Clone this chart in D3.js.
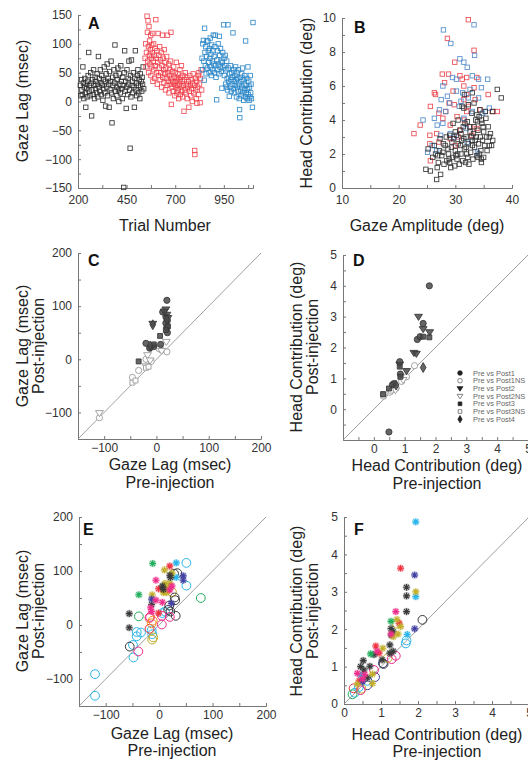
<!DOCTYPE html>
<html><head><meta charset="utf-8">
<script src="https://cdn.jsdelivr.net/npm/d3@7"></script>
<style>body{margin:0;background:#fff}svg{display:block;font-family:Arial,"Liberation Sans",Helvetica,sans-serif}</style>
</head><body><svg id="c" width="528" height="762"></svg>
<script>
// ---------- Panel A: trial number vs gaze lag ----------
const aBlack=[[212,28],[215,10],[218,38],[220,20],[222,12],[225,60],[228,32],[230,5],[232,25],[235,40],[238,15],[240,-10],[242,30],[245,22],[247,8],[250,35],[252,45],[255,85],[257,18],[260,28],[262,10],[265,50],[268,32],[270,-25],[272,20],[275,38],[278,12],[280,55],[282,28],[285,5],[288,42],[290,22],[292,35],[295,15],[298,48],[300,30],[302,8],[305,78],[308,25],[310,40],[312,18],[315,55],[318,32],[320,12],[322,45],[325,28],[328,2],[330,38],[332,22],[335,60],[338,15],[340,35],[342,-8],[345,48],[348,25],[350,65],[352,10],[355,40],[358,30],[360,-10],[362,52],[365,20],[368,35],[370,70],[372,15],[375,-37],[378,42],[380,28],[382,5],[385,55],[388,32],[390,98],[392,18],[395,45],[398,25],[400,10],[402,38],[405,58],[408,20],[410,0],[412,48],[415,30],[418,15],[420,62],[422,35],[425,22],[428,5],[430,42],[432,28],[435,-149],[438,50],[440,88],[442,18],[445,35],[448,-12],[450,25],[452,55],[455,12],[458,40],[460,30],[462,70],[465,20],[468,-81],[470,45],[472,8],[475,72],[478,28],[480,35],[482,15],[485,50],[488,25],[490,-10],[492,40],[495,88],[498,20],[500,32],[502,10],[505,45],[508,55],[510,28],[512,15],[515,38],[518,5],[520,48],[522,25],[525,35],[528,18],[530,42],[532,30],[535,60],[538,22]];
const aRed=[[545,75],[548,100],[550,60],[552,85],[555,148],[557,120],[558,70],[560,140],[562,95],[563,50],[565,130],[567,80],[568,105],[570,65],[572,90],[574,115],[575,45],[577,75],[579,98],[580,60],[582,85],[584,118],[585,35],[587,70],[589,100],[590,55],[592,80],[594,40],[596,92],[598,62],[600,142],[602,75],[604,50],[606,88],[608,30],[610,68],[612,118],[614,45],[616,80],[618,58],[620,95],[622,38],[624,72],[626,50],[628,85],[630,25],[632,62],[634,115],[636,42],[638,75],[640,55],[642,32],[644,90],[646,48],[648,68],[650,20],[652,58],[654,40],[656,78],[658,28],[660,115],[662,50],[664,35],[666,65],[668,15],[670,45],[672,55],[674,30],[676,70],[678,120],[680,-5],[682,40],[684,25],[686,52],[688,35],[690,18],[692,60],[694,30],[696,42],[698,10],[700,50],[702,25],[704,35],[706,68],[708,15],[710,40],[712,28],[714,48],[716,20],[718,5],[720,38],[722,30],[724,55],[726,12],[728,42],[730,25],[732,62],[734,18],[736,35],[738,8],[740,45],[742,28],[745,-17],[748,38],[750,20],[752,50],[755,15],[758,30],[760,42],[762,5],[765,25],[768,35],[770,-10],[772,18],[775,45],[778,28],[780,10],[782,38],[785,22],[788,0],[790,32],[792,48],[795,15],[798,28],[800,-85],[801,-92],[803,40],[805,20],[808,5],[810,35],[812,-3],[815,25],[818,45],[820,12],[822,50],[825,30],[828,-2],[830,40],[833,55],[836,20]];
const aBlue=[[838,75],[840,55],[842,100],[845,106],[847,70],[849,37],[851,127],[853,85],[855,62],[857,95],[859,48],[861,78],[863,105],[865,58],[868,105],[870,88],[872,68],[874,50],[876,92],[878,75],[880,110],[882,60],[884,82],[886,45],[888,98],[890,70],[892,55],[894,88],[896,115],[898,65],[900,78],[902,50],[904,95],[906,115],[908,62],[910,42],[913,3],[915,72],[917,88],[919,55],[921,100],[923,65],[925,48],[927,113],[929,80],[931,60],[933,92],[935,70],[937,52],[940,23],[942,68],[944,85],[946,58],[949,133],[951,75],[953,45],[955,62],[957,80],[959,30],[961,55],[963,25],[965,70],[967,40],[969,20],[971,133],[973,58],[975,35],[978,9],[980,48],[982,25],[984,62],[986,38],[988,18],[990,50],[992,30],[994,42],[997,119],[999,22],[1001,55],[1003,35],[1005,15],[1007,45],[1009,28],[1011,60],[1013,38],[1015,8],[1017,50],[1019,25],[1021,40],[1023,18],[1025,55],[1027,30],[1029,5],[1031,-14],[1032,-28],[1034,42],[1036,20],[1038,35],[1040,10],[1042,48],[1044,25],[1046,58],[1048,15],[1050,38],[1052,2],[1054,30],[1056,20],[1058,45],[1060,8],[1062,105],[1064,28],[1066,15],[1068,40],[1070,5],[1072,22],[1074,60],[1076,12],[1078,35],[1080,2],[1082,25],[1084,8],[1086,45],[1088,15],[1090,30],[1092,5],[1097,-10],[1100,137]];

// ---------- Panel B: gaze amplitude vs head contribution ----------
const bRed=[[32.3,9.9],[33.3,8.1],[28.6,8.8],[29.9,7.4],[27.7,6.7],[28.8,6.7],[30.8,6.6],[32.0,6.5],[33.8,6.5],[26.5,5.5],[25.6,4.8],[22.7,3.2],[23.8,3.7],[25.5,3.1],[25.5,2.6],[25.6,1.6],[26.7,3.2],[29.6,5.7],[35.8,5.5],[37.4,4.5],[36.5,4.5],[33.3,5.9],[31.5,5.2],[29.8,4.9],[28.3,4.5],[32.0,4.5],[30.3,4.2],[29.1,3.7],[30.9,3.4],[32.7,3.6],[33.8,3.5],[27.8,4.1],[27.1,4.4],[31.5,6.0],[32.3,4.8],[29.1,2.9],[30.0,2.5],[27.1,2.7],[33.5,5.2],[32.0,5.5],[28.1,6.2],[26.3,5.6],[31.2,6.4],[30.5,3.0],[32.9,3.1],[28.9,5.0],[34.4,4.6],[31.6,4.0]];
const bBlue=[[27.9,9.3],[29.2,8.5],[33.3,9.6],[30.8,7.6],[31.5,7.4],[32.1,7.1],[33.4,7.8],[33.0,6.6],[34.1,6.4],[35.7,6.4],[27.8,6.0],[30.2,6.4],[34.6,5.9],[30.2,5.7],[31.3,5.6],[28.6,5.4],[29.0,5.0],[32.3,5.3],[34.1,5.3],[27.5,5.2],[28.3,4.5],[26.3,4.1],[24.3,4.0],[26.8,3.7],[27.8,3.8],[27.4,3.1],[29.1,3.2],[31.5,4.1],[33.0,4.5],[35.3,4.5],[36.0,4.7],[33.9,2.1],[25.9,2.5],[25.1,2.1],[26.7,2.2],[29.8,3.0],[32.1,2.7],[34.8,4.4],[30.7,4.8],[31.0,5.1],[29.5,6.5],[32.6,5.8],[27.2,4.6],[31.9,3.5]];
const bBlack=[[26.7,0.5],[24.8,1.1],[25.6,1.0],[26.8,1.2],[27.4,0.8],[29.2,1.2],[37.4,5.8],[38.1,5.3],[36.6,4.5],[36.6,2.8],[36.0,2.5],[34.6,1.7],[34.6,1.5],[34.0,1.8],[33.0,5.6],[33.3,5.0],[31.5,4.7],[25.2,2.3],[26.0,1.8],[26.5,2.0],[27.0,1.5],[27.2,2.2],[27.6,1.9],[28.0,1.4],[28.2,2.5],[28.5,1.6],[28.8,2.0],[29.0,1.5],[29.3,2.4],[29.5,1.8],[29.7,2.9],[29.9,1.3],[30.0,2.2],[30.2,3.1],[30.3,1.7],[30.5,2.6],[30.7,1.4],[30.8,3.4],[31.0,2.0],[31.1,2.8],[31.3,1.6],[31.4,3.6],[31.6,2.3],[31.8,1.5],[31.9,3.0],[32.0,2.0],[32.1,3.9],[32.3,2.6],[32.4,1.4],[32.6,3.3],[32.7,2.1],[32.9,4.4],[33.0,2.8],[33.1,1.7],[33.3,3.6],[33.4,2.4],[33.6,4.0],[33.7,3.0],[33.8,1.9],[34.0,3.4],[34.1,2.6],[34.2,4.2],[34.4,3.0],[34.5,2.2],[34.7,3.8],[34.8,2.8],[35.0,3.3],[35.2,2.5],[35.4,4.1],[35.5,3.0],[35.8,3.6],[36.2,3.2],[36.4,2.5],[35.0,1.8],[34.3,4.6],[33.9,3.9],[33.5,2.8],[32.8,3.0],[31.7,3.8],[31.2,4.8],[30.5,4.0],[30.0,3.3],[29.6,3.8],[29.0,3.1],[28.4,3.0],[27.9,2.6],[27.3,2.9],[26.3,2.5],[26.9,1.9],[30.1,1.9],[30.9,2.5],[31.5,2.9],[32.2,1.8],[32.5,3.6],[33.2,3.2],[34.9,3.6],[35.3,4.5],[34.6,4.0],[33.8,4.3],[31.0,3.2],[29.4,2.7],[28.7,2.3],[27.8,2.1],[28.9,1.7],[30.4,2.0],[31.9,2.4],[33.0,2.5],[34.2,2.0],[36.0,3.0],[35.6,2.2],[31.6,5.5],[32.3,4.9]];

// ---------- Panel C: gaze lag pre vs post ----------
const cPost1=[[20,111],[12,89],[18,80],[21,73],[20,60],[21,50],[8,28],[-20,30],[-13,21],[18,68],[-5,24]];
const cPost1NS=[[-46,-34],[-34,-21],[-20,0],[9,18],[20,14],[-109,-110],[-10,-4],[5,20]];
const cPost2=[[18,94],[-7,67],[20,84],[22,78],[-10,22],[15,90]];
const cPost2NS=[[19,33],[-17,8],[-20,-13],[-109,-101],[10,16],[-12,-2]];
const cPost3=[[7,44],[-34,-4],[-5,28],[22,62],[18,55]];
const cPost3NS=[[-46,-44],[-20,-16],[-15,-14],[-40,-40]];
const cPost4=[[-7,65],[20,75],[-12,25]];

// ---------- Panel D: head contribution pre vs post ----------
const dPost1=[[1.8,4.0],[1.6,2.78],[1.41,2.26],[0.84,1.54],[0.86,1.14],[0.65,0.83],[0.6,0.79],[0.49,-0.74],[1.5,2.35]];
const dPost1NS=[[1.32,1.41],[1.06,1.05],[0.9,0.9],[0.52,0.55],[0.32,0.42],[0.72,0.68]];
const dPost2=[[1.45,3.0],[1.6,2.6],[1.81,2.5],[1.3,1.83],[1.38,1.8],[1.06,1.24],[0.84,1.45]];
const dPost2NS=[[0.7,0.62],[0.95,0.95]];
const dPost3=[[1.8,2.33],[1.6,2.35],[0.84,1.38],[0.86,1.05],[0.49,0.67],[0.3,0.49]];
const dPost3NS=[[0.55,0.6],[0.3,0.45]];
const dPost4=[[1.6,1.35],[0.72,0.78]];
const legendLabels=["Pre vs Post1","Pre vs Post1NS","Pre vs Post2","Pre vs Post2NS","Pre vs Post3","Pre vs Post3NS","Pre vs Post4"];

// ---------- Panel E: gaze lag, per-animal colours ----------
const eCyanStar=[[32,115],[32,88]];
const eCyanCircle=[[51,115],[51,73],[11,25],[6,22],[-42,-13],[-34,-14],[-42,-21],[-14,-10],[-13,-17],[-49,-37],[-48,-60],[-120,-91],[-120,-131]];
const eGreenStar=[[-12,114],[-38,56]];
const eGreenCircle=[[78,50],[-38,16]];
const eRedStar=[[20,109],[-1,67],[7,67],[-1,22]];
const eRedCircle=[[-18,13],[-18,-7]];
const eOliveStar=[[10,102],[24,96],[20,77],[11,77],[14,71],[8,60],[14,60],[17,65],[-13,56]];
const eOliveCircle=[[24,61],[-11,-23],[-13,-27]];
const eDarkStar=[[20,92],[21,88],[6,72],[8,66],[-14,38],[-56,21],[-56,-5]];
const eDarkCircle=[[28,95],[34,96],[29,51],[30,46],[19,36],[17,28],[21,25],[31,17],[-55,-40]];
const ePurpleStar=[[45,91],[45,83],[-14,48],[23,40]];
const eMagentaStar=[[-6,83],[20,65],[24,72],[-6,46],[6,42],[-16,32],[-14,25]];
const eMagentaCircle=[[20,15],[5,17],[5,1],[-39,-49],[-17,15]];
const eOrangeCircle=[[-14,3],[-12,8]];

// ---------- Panel F: head contribution, per-animal colours ----------
const fCyanStar=[[1.94,4.87],[1.94,2.87],[1.71,1.86],[0.45,0.77]];
const fCyanCircle=[[1.67,1.62],[1.69,1.7],[0.63,0.62],[0.29,0.3],[0.4,0.45]];
const fRedStar=[[1.53,3.63],[1.49,2.16],[0.86,1.55],[0.95,1.36],[0.41,0.62]];
const fRedCircle=[[0.26,0.42]];
const fPurpleStar=[[1.91,3.45],[1.91,2.01],[0.5,0.6]];
const fPurpleCircle=[[1.05,1.09],[0.84,0.72],[0.63,0.5]];
const fDarkStar=[[1.69,3.12],[1.69,2.89],[1.69,2.47],[1.33,1.93],[1.28,1.84],[1.27,2.02],[1.24,1.58],[1.33,1.41],[1.24,1.36],[0.81,1.32],[1.03,1.18],[0.52,1.16],[0.7,1.01],[0.54,0.91],[0.63,0.7],[0.45,1.0]];
const fDarkCircle=[[2.12,2.25],[1.07,1.07]];
const fOliveStar=[[1.94,3.0],[1.43,2.26],[1.53,2.07],[1.46,1.87],[1.33,1.8],[1.05,1.49],[0.77,0.8],[0.77,0.55],[0.36,0.53]];
const fOliveCircle=[[1.43,2.15],[1.18,1.23],[0.47,0.41]];
const fMagentaStar=[[1.4,2.47],[0.89,1.41],[0.56,0.79],[0.5,0.67],[0.36,0.82],[1.27,1.87]];
const fMagentaCircle=[[1.4,1.29],[1.29,1.2],[0.81,0.91],[0.45,0.37]];
const fGreenStar=[[1.27,2.21],[0.72,1.34]];
const fGreenCircle=[[0.23,0.26]];

// ---------- drawing ----------
const svg=d3.select("#c");
const COL={cyan:"#2bb5ea",green:"#22ae5c",red:"#ee3340",olive:"#c2ae2a",dark:"#3a3a3a",purple:"#4242a2",magenta:"#ee2d8c",orange:"#f08a22"};

function panel(o){
  const x=d3.scaleLinear().domain(o.xd).range(o.xr);
  const y=d3.scaleLinear().domain(o.yd).range(o.yr);
  const g=svg.append("g");
  const ax=d3.axisBottom(x).tickValues(o.xt.concat(o.xm)).tickSize(-3).tickPadding(o.xp)
     .tickFormat(v=>o.xt.includes(v)?d3.format("")(v):"");
  const ay=d3.axisLeft(y).tickValues(o.yt.concat(o.ym)).tickSize(-3).tickPadding(6)
     .tickFormat(v=>o.yt.includes(v)?d3.format("")(v):"");
  const gx=g.append("g").attr("transform",`translate(0,${o.yr[0]})`).call(ax);
  const gy=g.append("g").attr("transform",`translate(${o.xr[0]},0)`).call(ay);
  [gx,gy].forEach(a=>{a.select(".domain").attr("stroke","#777");a.selectAll("line").attr("stroke","#777");
    a.selectAll("text").attr("font-size",12).attr("fill","#333").attr("font-family","Arial, 'Liberation Sans', sans-serif");});
  return {x,y,g};
}
function ylab(lines,xs,cy,g){
  lines.forEach((t,i)=>g.append("text").attr("transform",`translate(${xs[i]},${cy}) rotate(-90)`)
    .attr("text-anchor","middle").attr("font-size",16).attr("fill","#222").text(t));
}
function xlab(lines,cx,ys,g){
  lines.forEach((t,i)=>g.append("text").attr("x",cx).attr("y",ys[i]).attr("text-anchor","middle")
    .attr("font-size",16).attr("fill","#222").text(t));
}
function letter(t,x0,y0,g){g.append("text").attr("x",x0).attr("y",y0).attr("font-size",16).attr("font-weight","bold").attr("fill","#111").text(t);}
function squares(p,data,color,op){
  p.g.append("g").selectAll("rect").data(data).join("rect")
   .attr("x",d=>p.x(d[0])-2.2).attr("y",d=>p.y(d[1])-2.2).attr("width",4.4).attr("height",4.4)
   .attr("fill","none").attr("stroke",color).attr("stroke-width",0.9).attr("opacity",op);
}
function diag(p,a,b){
  p.g.append("line").attr("x1",p.x(a)).attr("y1",p.y(a)).attr("x2",p.x(b)).attr("y2",p.y(b))
   .attr("stroke","#888").attr("stroke-width",0.8);
}
const triDown={draw(ctx,s){const r=Math.sqrt(s/1.3);ctx.moveTo(-r,-r*0.6);ctx.lineTo(r,-r*0.6);ctx.lineTo(0,r*0.95);ctx.closePath();}};
const star8={draw(ctx,s){const r=Math.sqrt(s)/2,q=r*0.72;ctx.moveTo(-r,0);ctx.lineTo(r,0);ctx.moveTo(0,-r);ctx.lineTo(0,r);
  ctx.moveTo(-q,-q);ctx.lineTo(q,q);ctx.moveTo(-q,q);ctx.lineTo(q,-q);}};
const SYM=[
  {t:d3.symbolCircle,s:30,f:true},{t:d3.symbolCircle,s:30,f:false},
  {t:triDown,s:20,f:true},{t:triDown,s:20,f:false},
  {t:d3.symbolSquare,s:24,f:true},{t:d3.symbolSquare,s:24,f:false},
  {t:d3.symbolDiamond,s:28,f:true}];
function syms(p,data,k,scale){
  const sp=SYM[k];
  p.g.append("g").selectAll("path").data(data).join("path")
   .attr("transform",d=>`translate(${p.x(d[0])},${p.y(d[1])})`)
   .attr("d",d3.symbol(sp.t,sp.s*(scale||1)))
   .attr("fill",sp.f?"#4a4a4a":"#fff").attr("fill-opacity",sp.f?0.85:1)
   .attr("stroke",sp.f?"#3a3a3a":"#9a9a9a").attr("stroke-width",0.9);
}
function stars(p,data,color){
  const gg=p.g.append("g");
  gg.selectAll("circle").data(data).join("circle").attr("cx",d=>p.x(d[0])).attr("cy",d=>p.y(d[1])).attr("r",3.8)
    .attr("fill",color).attr("opacity",0.3);
  gg.selectAll("path").data(data).join("path").attr("transform",d=>`translate(${p.x(d[0])},${p.y(d[1])})`)
    .attr("d",d3.symbol(star8,44)).attr("fill","none").attr("stroke",color).attr("stroke-width",1.1);
}
function rings(p,data,color){
  p.g.append("g").selectAll("circle").data(data).join("circle").attr("cx",d=>p.x(d[0])).attr("cy",d=>p.y(d[1])).attr("r",4.4)
    .attr("fill","none").attr("stroke",color).attr("stroke-width",1);
}

// A
const pA=panel({xd:[200,1100],xr:[78,253],yd:[-150,150],yr:[188,15],xp:7,xt:[200,450,700,950],xm:[325,575,825,1075],yt:[-150,-100,-50,0,50,100,150],ym:[-125,-75,-25,25,75,125]});
squares(pA,aBlack,"#2a2a2a",0.9);squares(pA,aRed,"#ee3b45",0.85);squares(pA,aBlue,"#2a86c8",0.9);
ylab(["Gaze Lag (msec)"],[28],101,pA.g);xlab(["Trial Number"],165,[231],pA.g);letter("A",88,29,pA.g);

// B
const pB=panel({xd:[10,40],xr:[342,512],yd:[0,10],yr:[188,18],xp:7,xt:[10,20,30,40],xm:[15,25,35],yt:[0,2,4,6,8,10],ym:[1,3,5,7,9]});
squares(pB,bRed,"#e8404a",0.9);squares(pB,bBlue,"#4a86c8",0.9);squares(pB,bBlack,"#2e2e2e",0.9);
ylab(["Head Contribution (deg)"],[312],103,pB.g);xlab(["Gaze Amplitude (deg)"],427,[231],pB.g);letter("B",354,33,pB.g);

// C
const pC=panel({xd:[-150,200],xr:[78,261],yd:[-150,200],yr:[439,253],xp:4,xt:[-100,0,100,200],xm:[-150,-50,50,150],yt:[-100,0,100,200],ym:[-150,-50,50,150]});
diag(pC,-150,200);
[cPost1NS,cPost2NS,cPost3NS].forEach((d,i)=>syms(pC,d,[1,3,5][i]));
[cPost1,cPost2,cPost3,cPost4].forEach((d,i)=>syms(pC,d,[0,2,4,6][i]));
ylab(["Gaze Lag (msec)","Post-injection"],[28,44],346,pC.g);xlab(["Gaze Lag (msec)","Pre-injection"],170,[470,488],pC.g);letter("C",88,266,pC.g);

// D
const pD=panel({xd:[-1,5],xr:[343,528],yd:[-1,5],yr:[440,255],xp:4,xt:[0,1,2,3,4,5],xm:[-0.5,0.5,1.5,2.5,3.5,4.5],yt:[0,1,2,3,4,5],ym:[-0.5,0.5,1.5,2.5,3.5,4.5]});
diag(pD,-1,5);
[dPost1NS,dPost2NS,dPost3NS].forEach((d,i)=>syms(pD,d,[1,3,5][i]));
[dPost1,dPost2,dPost3,dPost4].forEach((d,i)=>syms(pD,d,[0,2,4,6][i]));
ylab(["Head Contribution (deg)","Post-injection"],[302,318],347,pD.g);xlab(["Head Contribution (deg)","Pre-injection"],437,[471,489],pD.g);letter("D",353,266,pD.g);
const lg=pD.g.append("g");
legendLabels.forEach((t,i)=>{
  const yy=373+i*7.7;const sp=SYM[i];
  lg.append("path").attr("transform",`translate(460,${yy})`).attr("d",d3.symbol(sp.t,sp.s*0.55))
    .attr("fill",sp.f?"#222":"#fff").attr("stroke",sp.f?"#222":"#666").attr("stroke-width",0.8);
  lg.append("text").attr("x",473).attr("y",yy+2.6).attr("font-size",7.4).attr("fill","#666").text(t);
});

// E
const pE=panel({xd:[-150,200],xr:[79,266],yd:[-150,200],yr:[706,517],xp:4,xt:[-100,0,100,200],xm:[-150,-50,50,150],yt:[-100,0,100,200],ym:[-150,-50,50,150]});
diag(pE,-150,200);
rings(pE,eCyanCircle,COL.cyan);rings(pE,eGreenCircle,COL.green);rings(pE,eRedCircle,COL.red);rings(pE,eOliveCircle,COL.olive);
rings(pE,eDarkCircle,COL.dark);rings(pE,eMagentaCircle,COL.magenta);rings(pE,eOrangeCircle,COL.orange);
stars(pE,eCyanStar,COL.cyan);stars(pE,eGreenStar,COL.green);stars(pE,eRedStar,COL.red);stars(pE,eOliveStar,COL.olive);
stars(pE,eDarkStar,COL.dark);stars(pE,ePurpleStar,COL.purple);stars(pE,eMagentaStar,COL.magenta);
ylab(["Gaze Lag (msec)","Post-injection"],[28,44],611,pE.g);xlab(["Gaze Lag (msec)","Pre-injection"],172,[739,756],pE.g);letter("E",83,535,pE.g);

// F
const pF=panel({xd:[0,5],xr:[344,529],yd:[0,5],yr:[704,517],xp:4,xt:[0,1,2,3,4,5],xm:[0.5,1.5,2.5,3.5,4.5],yt:[0,1,2,3,4,5],ym:[0.5,1.5,2.5,3.5,4.5]});
diag(pF,0,5);
rings(pF,fCyanCircle,COL.cyan);rings(pF,fRedCircle,COL.red);rings(pF,fPurpleCircle,COL.purple);rings(pF,fDarkCircle,COL.dark);
rings(pF,fOliveCircle,COL.olive);rings(pF,fMagentaCircle,COL.magenta);rings(pF,fGreenCircle,COL.green);
stars(pF,fCyanStar,COL.cyan);stars(pF,fRedStar,COL.red);stars(pF,fPurpleStar,COL.purple);stars(pF,fDarkStar,COL.dark);
stars(pF,fOliveStar,COL.olive);stars(pF,fMagentaStar,COL.magenta);stars(pF,fGreenStar,COL.green);
ylab(["Head Contribution (deg)","Post-injection"],[302,318],611,pF.g);xlab(["Head Contribution (deg)","Pre-injection"],437,[740,757],pF.g);letter("F",354,535,pF.g);
</script></body></html>
